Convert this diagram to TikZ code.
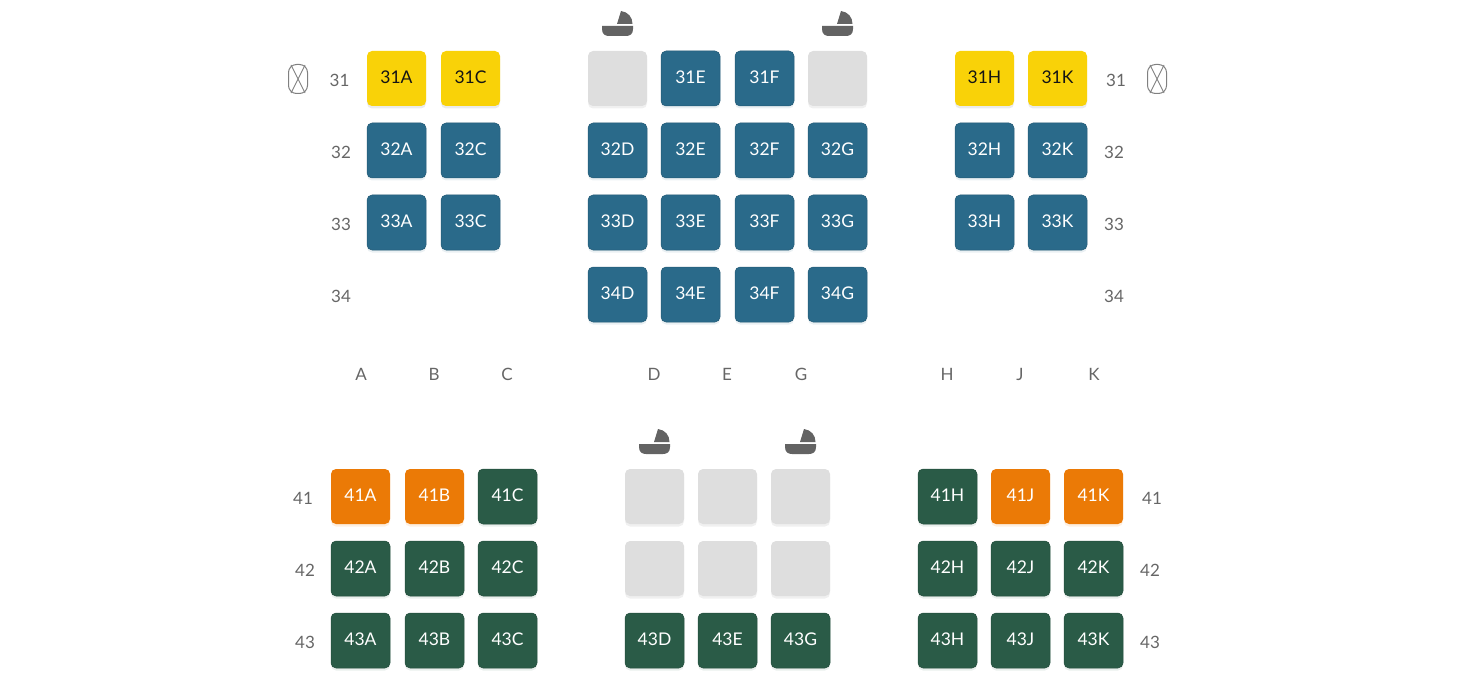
\documentclass[tikz,border=0pt]{standalone}
\usepackage{fontspec}
\setmainfont{Lato}
\definecolor{cblue}{HTML}{2A6A8A}
\definecolor{cgreen}{HTML}{2A5B47}
\definecolor{cyellow}{HTML}{F9D208}
\definecolor{corange}{HTML}{EB7A06}
\definecolor{cgrey}{HTML}{DEDEDE}
\definecolor{ctext}{HTML}{666666}
\definecolor{cicon}{HTML}{636363}
\tikzset{
  seatbox/.style={rounded corners=5pt,minimum width=59pt,minimum height=55pt,inner sep=0pt,outer sep=0pt,anchor=north west,font=\fontsize{17.5}{17.5}\selectfont},
  bluebox/.style={seatbox,fill=cblue,draw=cblue!85!black,line width=0.5pt,text=white,text depth=3pt},
  greenbox/.style={seatbox,fill=cgreen,draw=cgreen!85!black,line width=0.5pt,text=white,text depth=3pt},
  yellowbox/.style={seatbox,fill=cyellow,text=black!92,text depth=3pt},
  orangebox/.style={seatbox,fill=corange,text=white,text depth=3pt},
  greybox/.style={seatbox,fill=cgrey},
  rowlabel/.style={text=ctext,font=\fontsize{17}{17}\selectfont,inner sep=0pt},
  collabel/.style={text=ctext,font=\fontsize{17}{17}\selectfont,inner sep=0pt}
}
% #1 name, #2 x, #3 y, #4 style, #5 text, #6 under-shadow colour
\newcommand{\seatat}[6]{%
  \fill[#6,rounded corners=5pt] (#2,#3+3) rectangle (#2+59,#3+57.5);
  \node[#4] (#1) at (#2,#3) {#5};
}
\newcommand{\bluesat}[4]{\seatat{#1}{#2}{#3}{bluebox}{#4}{cblue!10}}
\newcommand{\greensat}[4]{\seatat{#1}{#2}{#3}{greenbox}{#4}{cgreen!10}}
\newcommand{\yellowsat}[4]{\seatat{#1}{#2}{#3}{yellowbox}{#4}{black!8}}
\newcommand{\orangesat}[4]{\seatat{#1}{#2}{#3}{orangebox}{#4}{corange!12}}
\newcommand{\greysat}[3]{\seatat{#1}{#2}{#3}{greybox}{}{black!6}}
\newcommand{\cradle}[2]{%
  \begin{scope}[shift={(#1,#2)}]
    \fill[cicon] (15,13) -- (19,0) .. controls (26,1) and (30.5,6) .. (30.5,13) -- cycle;
    \fill[cicon] (0,15) -- (31,15) -- (31,18) .. controls (31,23) and (28,25) .. (24,25) -- (7,25) .. controls (3,25) and (0,23) .. (0,18) -- cycle;
  \end{scope}}
\newcommand{\exitmark}[2]{%
  \begin{scope}[shift={(#1,#2)}]
    \draw[black!50,line width=1pt,rounded corners=8pt] (-9.5,-14.5) rectangle (9.5,14.5);
    \draw[black!50,line width=0.9pt] (-7,-14) -- (7,14) (7,-14) -- (-7,14);
  \end{scope}}
\begin{document}
\begin{tikzpicture}[x=1pt,y=-1pt]
\useasboundingbox (0,0) rectangle (1477,679);
% upper cabin
\yellowsat{s31A}{367}{51}{31A}
\yellowsat{s31C}{441}{51}{31C}
\greysat{s31x}{588}{51}
\bluesat{s31E}{661}{51}{31E}
\bluesat{s31F}{735}{51}{31F}
\greysat{s31y}{808}{51}
\yellowsat{s31H}{955}{51}{31H}
\yellowsat{s31K}{1028}{51}{31K}
\bluesat{s32A}{367}{123}{32A}
\bluesat{s32C}{441}{123}{32C}
\bluesat{s32D}{588}{123}{32D}
\bluesat{s32E}{661}{123}{32E}
\bluesat{s32F}{735}{123}{32F}
\bluesat{s32G}{808}{123}{32G}
\bluesat{s32H}{955}{123}{32H}
\bluesat{s32K}{1028}{123}{32K}
\bluesat{s33A}{367}{195}{33A}
\bluesat{s33C}{441}{195}{33C}
\bluesat{s33D}{588}{195}{33D}
\bluesat{s33E}{661}{195}{33E}
\bluesat{s33F}{735}{195}{33F}
\bluesat{s33G}{808}{195}{33G}
\bluesat{s33H}{955}{195}{33H}
\bluesat{s33K}{1028}{195}{33K}
\bluesat{s34D}{588}{267}{34D}
\bluesat{s34E}{661}{267}{34E}
\bluesat{s34F}{735}{267}{34F}
\bluesat{s34G}{808}{267}{34G}
% lower cabin
\orangesat{s41A}{331}{469}{41A}
\orangesat{s41B}{405}{469}{41B}
\greensat{s41C}{478}{469}{41C}
\greysat{s41x}{625}{469}
\greysat{s41y}{698}{469}
\greysat{s41z}{771}{469}
\greensat{s41H}{918}{469}{41H}
\orangesat{s41J}{991}{469}{41J}
\orangesat{s41K}{1064}{469}{41K}
\greensat{s42A}{331}{541}{42A}
\greensat{s42B}{405}{541}{42B}
\greensat{s42C}{478}{541}{42C}
\greysat{s42x}{625}{541}
\greysat{s42y}{698}{541}
\greysat{s42z}{771}{541}
\greensat{s42H}{918}{541}{42H}
\greensat{s42J}{991}{541}{42J}
\greensat{s42K}{1064}{541}{42K}
\greensat{s43A}{331}{613}{43A}
\greensat{s43B}{405}{613}{43B}
\greensat{s43C}{478}{613}{43C}
\greensat{s43D}{625}{613}{43D}
\greensat{s43E}{698}{613}{43E}
\greensat{s43G}{771}{613}{43G}
\greensat{s43H}{918}{613}{43H}
\greensat{s43J}{991}{613}{43J}
\greensat{s43K}{1064}{613}{43K}
% row numbers
\node[rowlabel] (l31) at (339.5,80) {31};
\node[rowlabel] (l32) at (341,152) {32};
\node[rowlabel] (l33) at (341,224) {33};
\node[rowlabel] (l34) at (341,296) {34};
\node[rowlabel] (r31) at (1116,80) {31};
\node[rowlabel] (r32) at (1114,152) {32};
\node[rowlabel] (r33) at (1114,224) {33};
\node[rowlabel] (r34) at (1114,296) {34};
\node[rowlabel] (l41) at (303,498) {41};
\node[rowlabel] (l42) at (305,570) {42};
\node[rowlabel] (l43) at (305,642) {43};
\node[rowlabel] (r41) at (1152,498) {41};
\node[rowlabel] (r42) at (1150,570) {42};
\node[rowlabel] (r43) at (1150,642) {43};
% column letters
\node[collabel] (cA) at (361,374) {A};
\node[collabel] (cB) at (434,374) {B};
\node[collabel] (cC) at (507,374) {C};
\node[collabel] (cD) at (654,374) {D};
\node[collabel] (cE) at (727,374) {E};
\node[collabel] (cG) at (801,374) {G};
\node[collabel] (cH) at (947,374) {H};
\node[collabel] (cJ) at (1020,374) {J};
\node[collabel] (cK) at (1094,374) {K};
% icons
\cradle{602}{11}
\cradle{822}{11}
\cradle{639}{429}
\cradle{785}{429}
\exitmark{298}{79}
\exitmark{1157}{79}
\end{tikzpicture}
\end{document}
